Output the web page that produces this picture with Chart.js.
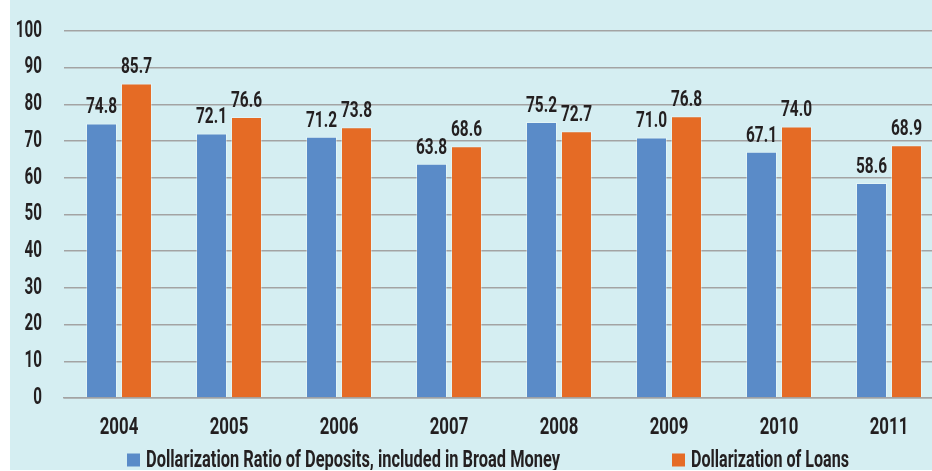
<!DOCTYPE html>
<html>
<head>
<meta charset="utf-8">
<script src="https://cdn.jsdelivr.net/npm/chart.js@4.4.1/dist/chart.umd.min.js"></script>
<style>
  html, body { margin: 0; padding: 0; background: #ffffff; overflow: hidden; width: 932px; height: 471px; }
  #wrap { position: absolute; left: 10px; top: 0; width: 944px; height: 470px; background: #d5eef2; }
</style>
</head>
<body>
<div id="wrap"><canvas id="c" width="944" height="470"></canvas></div>
<script>
const categories = ["2004", "2005", "2006", "2007", "2008", "2009", "2010", "2011"];
const depositsLabel = "Dollarization Ratio of Deposits, included in Broad Money";
const loansLabel = "Dollarization of Loans";
const deposits = [74.8, 72.1, 71.2, 63.8, 75.2, 71.0, 67.1, 58.6];
const loans = [85.7, 76.6, 73.8, 68.6, 72.7, 76.8, 74.0, 68.9];
const yTicks = [0, 10, 20, 30, 40, 50, 60, 70, 80, 90, 100];

const FONT = "Roboto, 'Liberation Sans', sans-serif";
const TEXT = '#231f20';

// draw horizontally condensed text
function cText(ctx, text, x, y, size, squeeze, align, baseline) {
  ctx.save();
  ctx.font = 'bold ' + size + 'px ' + FONT;
  ctx.fillStyle = TEXT;
  ctx.textAlign = align;
  ctx.textBaseline = baseline;
  ctx.translate(x, y);
  ctx.scale(squeeze, 1);
  ctx.fillText(text, 0, 0);
  ctx.restore();
}

const textLayer = {
  id: 'textLayer',
  afterDraw(chart) {
    const ctx = chart.ctx;
    const xs = chart.scales.x, ys = chart.scales.y;
    // y tick labels
    ys.ticks.forEach(t => {
      cText(ctx, String(t.value), chart.chartArea.left - 22, ys.getPixelForValue(t.value), 23, 0.66, 'right', 'middle');
    });
    // x tick labels
    xs.ticks.forEach((t, i) => {
      cText(ctx, xs.getLabelForValue(t.value), xs.getPixelForTick(i), chart.chartArea.bottom + 30, 24, 0.7, 'center', 'middle');
    });
    // value labels
    chart.data.datasets.forEach((ds, i) => {
      chart.getDatasetMeta(i).data.forEach((el, j) => {
        cText(ctx, ds.data[j].toFixed(1), el.x, el.y - 10, 22, 0.7, 'center', 'alphabetic');
      });
    });
    // legend
    const size = 23, box = 13, gap = 6, itemGap = 112;
    const targetW = [414, 158];
    ctx.save();
    ctx.font = 'bold ' + size + 'px ' + FONT;
    const items = chart.data.datasets.map((ds, k) => {
      const m = ctx.measureText(ds.label).width;
      return { text: ds.label, color: ds.backgroundColor, w: targetW[k], sq: targetW[k] / m };
    });
    ctx.restore();
    let total = 0;
    items.forEach((it, k) => { total += box + gap + it.w + (k ? itemGap : 0); });
    let x = 478 - total / 2;
    const yc = 460;
    items.forEach(it => {
      ctx.fillStyle = it.color;
      ctx.fillRect(x, yc - box / 2, box, box);
      cText(ctx, it.text, x + box + gap, yc + 1, size, it.sq, 'left', 'middle');
      x += box + gap + it.w + itemGap;
    });
  }
};

new Chart(document.getElementById('c'), {
  type: 'bar',
  data: {
    labels: categories,
    datasets: [
      { label: depositsLabel, data: deposits, backgroundColor: '#5a8bc8', borderColor: 'rgba(255,255,255,0.35)', borderWidth: 1 },
      { label: loansLabel, data: loans, backgroundColor: '#e56b25', borderColor: 'rgba(255,255,255,0.35)', borderWidth: 1 }
    ]
  },
  options: {
    responsive: false,
    animation: false,
    categoryPercentage: 0.636,
    barPercentage: 0.886,
    layout: { padding: { top: 31, right: 10, bottom: 0, left: 0 } },
    plugins: { legend: { display: false }, tooltip: { enabled: false } },
    scales: {
      x: {
        afterFit(scale) { scale.height = 72; },
        grid: { display: false, drawTicks: false },
        border: { display: true, color: '#a3a3a3', width: 1.5 },
        ticks: { display: false }
      },
      y: {
        min: 0, max: 100,
        afterBuildTicks(scale) { scale.ticks = yTicks.map(v => ({ value: v })); },
        afterFit(scale) { scale.width = 54; },
        grid: { color: '#a3a3a3', lineWidth: 1.5, drawTicks: false },
        border: { display: false },
        ticks: { display: false }
      }
    }
  },
  plugins: [textLayer]
});
</script>
</body>
</html>
